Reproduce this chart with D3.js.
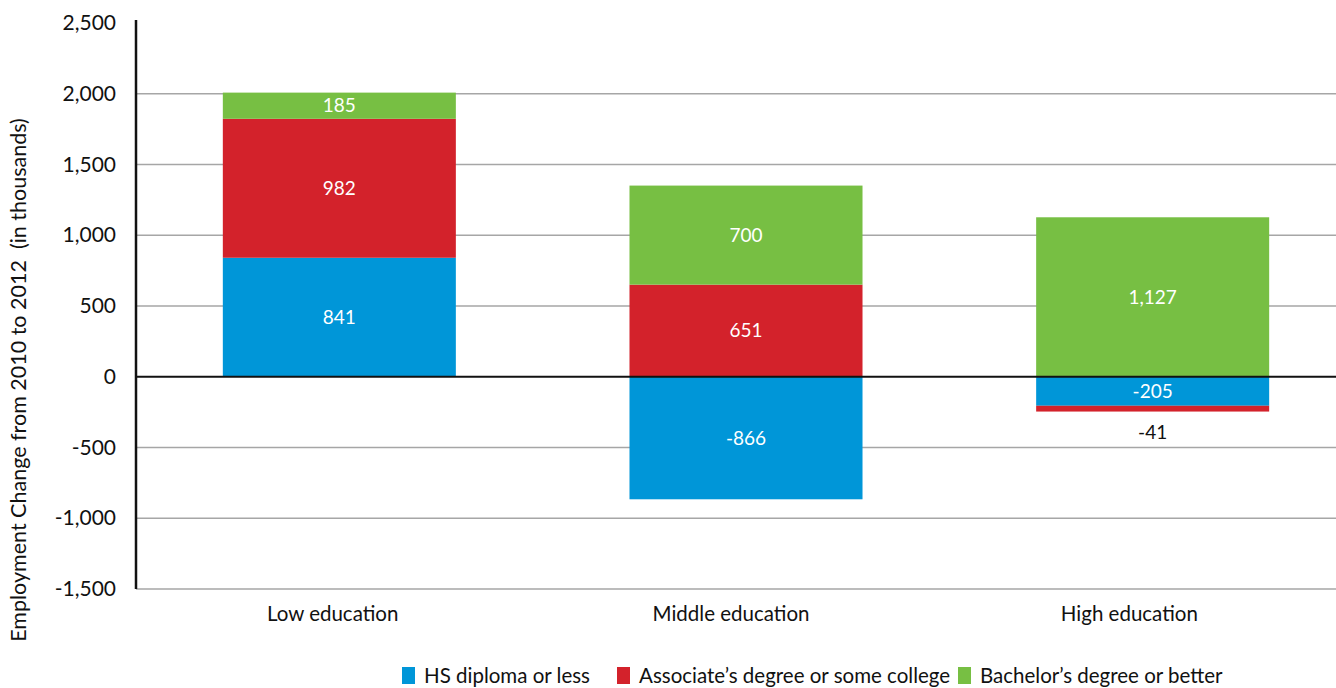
<!DOCTYPE html>
<html><head><meta charset="utf-8">
<script src="https://cdn.jsdelivr.net/npm/d3@7"></script>
<style>body{margin:0;background:#fff}svg{display:block}</style>
</head><body>
<svg id="c" width="1336" height="688"></svg>
<script>
const categories = ["Low education", "Middle education", "High education"];
const seriesNames = ["HS diploma or less", "Associate\u2019s degree or some college", "Bachelor\u2019s degree or better"];
const hsValues = [841, -866, -205];
const assocValues = [982, 651, -41];
const bachValues = [185, 700, 1127];
const yTicks = [-1500, -1000, -500, 0, 500, 1000, 1500, 2000, 2500];
const colors = ["#0096d8", "#d3222b", "#77bf43"];

const series = [hsValues, assocValues, bachValues];
const svg = d3.select("#c");
const font = "Lato, 'Open Sans', sans-serif";

const x = d3.scaleBand().domain(categories).range([136, 1356]).paddingInner(0.427).paddingOuter(0.2135);
const xLab = d3.scalePoint().domain(categories).range([133, 1328]).padding(0.5);
const y = d3.scaleLinear().domain([-1500, 2500]).range([589, 23]);

// gridlines
svg.append("g").selectAll("line").data(yTicks.filter(t => t !== 0 && t !== 2500)).join("line")
  .attr("x1", 136).attr("x2", 1336).attr("y1", d => y(d)).attr("y2", d => y(d))
  .attr("stroke", "#a6a6a6").attr("stroke-width", 1.3);

// stacked segments (positives up, negatives down)
const segs = [];
categories.forEach((c, i) => {
  let pos = 0, neg = 0;
  series.forEach((s, k) => {
    const v = s[i];
    let y0, y1;
    if (v >= 0) { y0 = pos; y1 = pos + v; pos = y1; } else { y0 = neg; y1 = neg + v; neg = y1; }
    segs.push({cat: c, k, v, y0, y1});
  });
});

svg.append("g").selectAll("rect").data(segs).join("rect")
  .attr("x", d => x(d.cat)).attr("width", x.bandwidth())
  .attr("y", d => y(Math.max(d.y0, d.y1))).attr("height", d => Math.abs(y(d.y0) - y(d.y1)))
  .attr("fill", d => colors[d.k]);

const fmt0 = d3.format(",");
const fmt = v => fmt0(v).replace("\u2212", "-");
svg.append("g").selectAll("text").data(segs).join("text")
  .attr("x", d => x(d.cat) + x.bandwidth() / 2)
  .attr("y", d => Math.abs(d.v) < 100 ? y(d.y1) + 21 : (y(d.y0) + y(d.y1)) / 2)
  .attr("dy", "0.35em").attr("text-anchor", "middle")
  .attr("font-family", font).attr("font-size", 19)
  .attr("fill", d => Math.abs(d.v) < 100 ? "#111" : "#fff")
  .text(d => fmt(d.v));

// zero line
svg.append("line").attr("x1", 136).attr("x2", 1336).attr("y1", y(0)).attr("y2", y(0))
  .attr("stroke", "#111").attr("stroke-width", 2);

// y axis
const yAxis = d3.axisLeft(y).tickValues(yTicks).tickFormat(fmt).tickSize(0).tickPadding(20);
const gy = svg.append("g").attr("transform", "translate(136,0)").call(yAxis);
gy.select(".domain").remove();
gy.selectAll("text").attr("font-family", font).attr("font-size", 21).attr("fill", "#111");
svg.append("line").attr("x1", 136).attr("x2", 136).attr("y1", 20).attr("y2", 589)
  .attr("stroke", "#111").attr("stroke-width", 2.5);

// x labels
const xAxis = d3.axisBottom(xLab).tickSize(0).tickPadding(0);
const gx = svg.append("g").attr("transform", "translate(0,614)").call(xAxis);
gx.select(".domain").remove();
gx.selectAll("text").attr("dy", "0.35em").attr("font-family", font).attr("font-size", 20.5).attr("fill", "#111");

// y title
svg.append("text").attr("transform", "translate(26,380) rotate(-90)")
  .attr("text-anchor", "middle").attr("font-family", font).attr("font-size", 21.5).attr("fill", "#111")
  .attr("xml:space", "preserve")
  .text("Employment Change from 2010 to 2012  (in thousands)");

// legend
const legX = [402, 617, 958];
const lg = svg.append("g").selectAll("g").data(seriesNames).join("g")
  .attr("transform", (d, i) => `translate(${legX[i]},667)`);
lg.append("rect").attr("width", 13).attr("height", 17).attr("fill", (d, i) => colors[i]);
lg.append("text").attr("x", 22).attr("y", 9).attr("dy", "0.35em")
  .attr("font-family", font).attr("font-size", 20.5).attr("fill", "#111").text(d => d);
</script>
</body></html>
